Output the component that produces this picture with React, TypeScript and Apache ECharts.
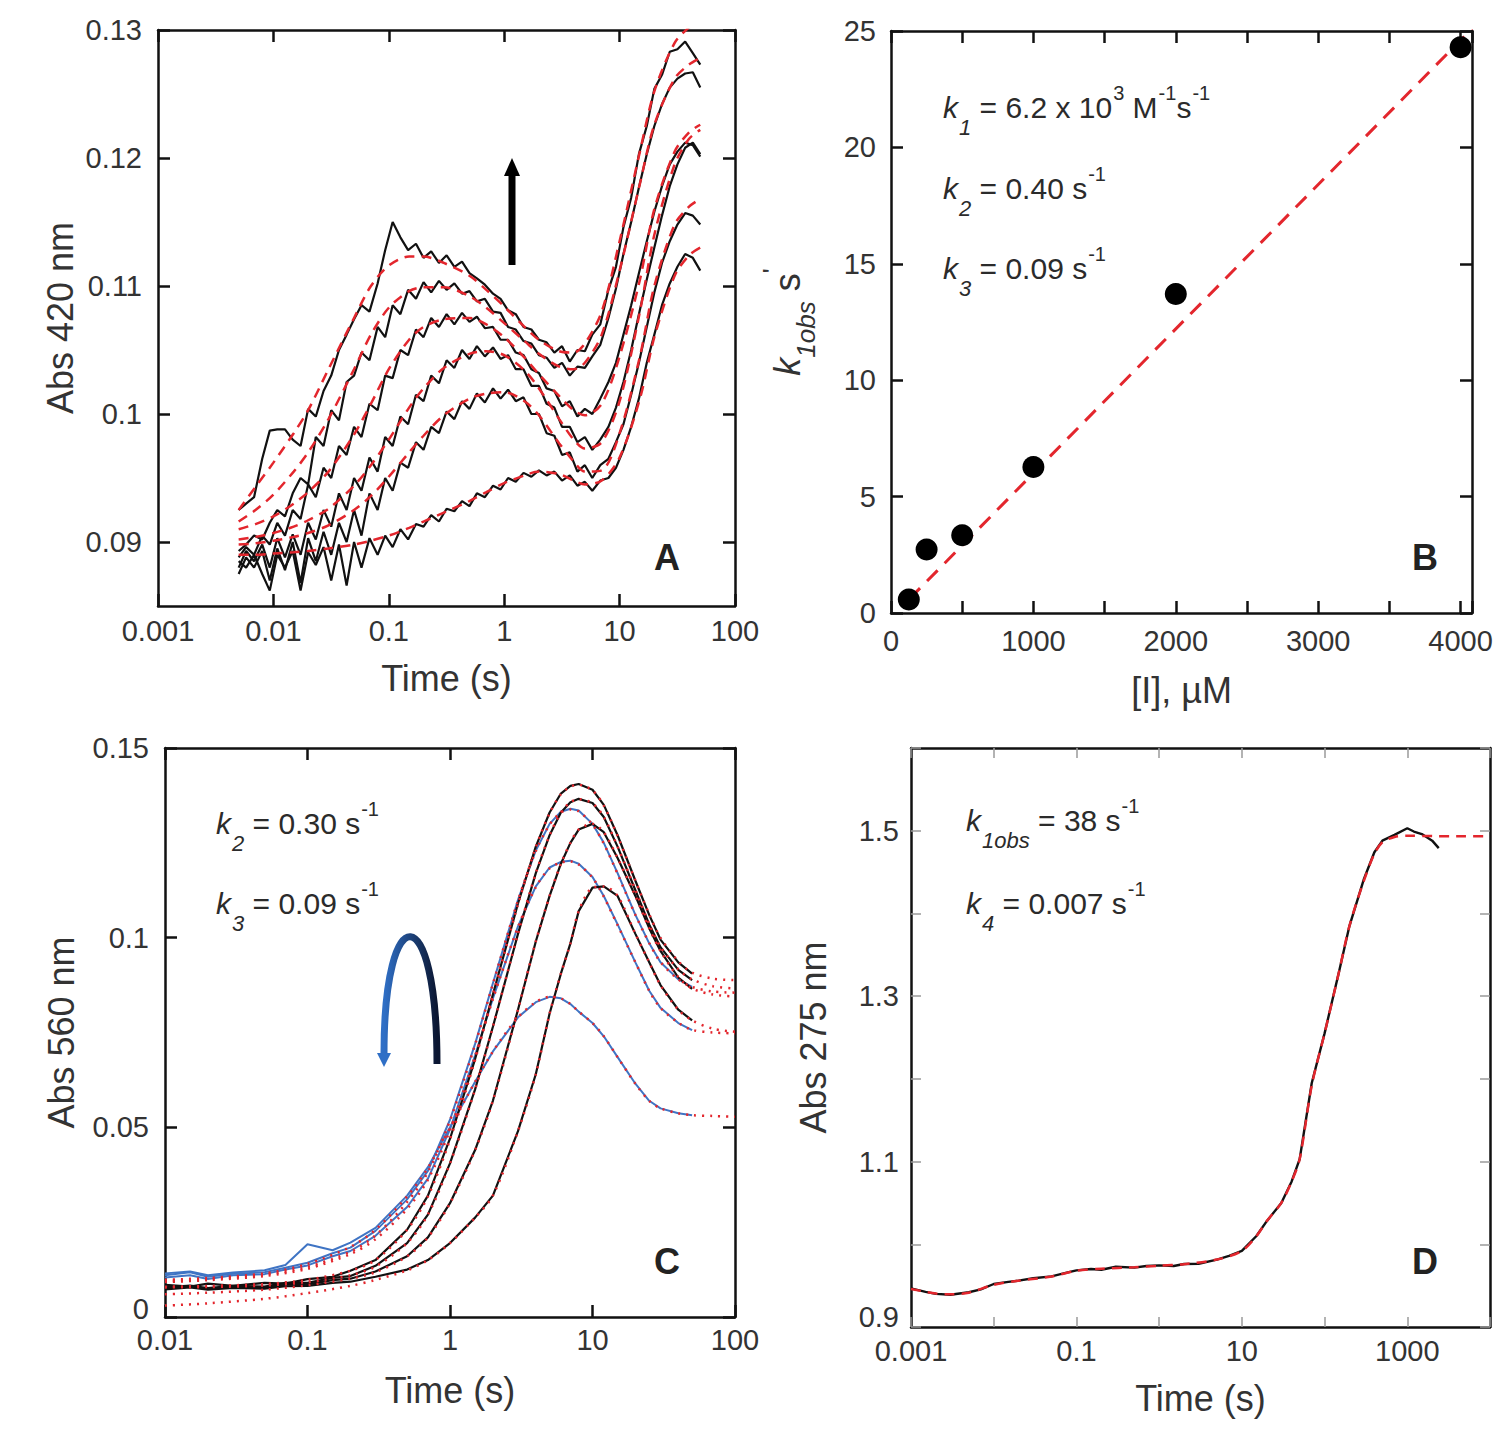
import React, { useEffect, useRef } from 'react';
import * as echarts from 'echarts';

// ---------------- Panel A : Abs 420 nm vs Time (s) ----------------
const A_TIME_FIT = [0.005, 0.007, 0.01, 0.015, 0.02, 0.03, 0.05, 0.07, 0.1, 0.15, 0.2, 0.3, 0.5, 0.7, 1, 1.5, 2, 3, 4, 5, 7, 10, 15, 20, 30, 40, 50];
const A_FIT_1 = [0.0925, 0.0943, 0.0962, 0.0985, 0.1003, 0.1035, 0.1075, 0.1100, 0.1116, 0.1123, 0.1123, 0.1118, 0.1108, 0.1097, 0.1084, 0.1068, 0.1058, 0.1049, 0.1048, 0.1055, 0.1080, 0.1135, 0.1205, 0.1252, 0.1290, 0.1302, 0.1308];
const A_FIT_2 = [0.0916, 0.0925, 0.0937, 0.0955, 0.0970, 0.0996, 0.1035, 0.1062, 0.1083, 0.1096, 0.1099, 0.1099, 0.1092, 0.1083, 0.1071, 0.1057, 0.1047, 0.1037, 0.1035, 0.1040, 0.1062, 0.1112, 0.1180, 0.1226, 0.1262, 0.1273, 0.1278];
const A_FIT_3 = [0.0910, 0.0914, 0.0920, 0.0930, 0.0939, 0.0955, 0.0984, 0.1008, 0.1035, 0.1058, 0.1068, 0.1074, 0.1075, 0.1070, 0.1060, 0.1044, 0.1031, 0.1014, 0.1003, 0.0999, 0.1008, 0.1045, 0.1105, 0.1160, 0.1205, 0.1220, 0.1226];
const A_FIT_4 = [0.0902, 0.0904, 0.0907, 0.0912, 0.0917, 0.0926, 0.0944, 0.0960, 0.0980, 0.1005, 0.1020, 0.1036, 0.1047, 0.1049, 0.1046, 0.1034, 0.1020, 0.0996, 0.0980, 0.0973, 0.0978, 0.1010, 0.1080, 0.1140, 0.1195, 0.1215, 0.1222];
const A_FIT_5 = [0.0898, 0.0899, 0.0901, 0.0904, 0.0907, 0.0913, 0.0925, 0.0936, 0.0951, 0.0970, 0.0983, 0.0999, 0.1012, 0.1016, 0.1017, 0.1010, 0.0999, 0.0977, 0.0963, 0.0955, 0.0956, 0.0985, 0.1045, 0.1100, 0.1148, 0.1162, 0.1168];
const A_FIT_6 = [0.0890, 0.0890, 0.0891, 0.0892, 0.0893, 0.0895, 0.0898, 0.0901, 0.0905, 0.0911, 0.0916, 0.0923, 0.0932, 0.0939, 0.0946, 0.0952, 0.0955, 0.0953, 0.0948, 0.0945, 0.0948, 0.0966, 0.1012, 0.1060, 0.1108, 0.1124, 0.1130];

const A_TIME_DATA = [
  0.005, 0.0058, 0.0068, 0.008, 0.0093, 0.0108, 0.0126, 0.0147, 0.0172, 0.02,
  0.0233, 0.0272, 0.0317, 0.037, 0.0431, 0.05, 0.058, 0.068, 0.08, 0.093,
  0.108, 0.126, 0.147, 0.172, 0.2, 0.233, 0.272, 0.317, 0.37, 0.431,
  0.5, 0.58, 0.68, 0.8, 0.93, 1.08, 1.26, 1.47, 1.72, 2,
  2.33, 2.72, 3.17, 3.7, 4.31, 5, 5.8, 6.8, 8, 9.3,
  10.8, 12.6, 14.7, 17.2, 20, 23.3, 27.2, 31.7, 37, 43.1,
  50,
];
const A_DATA_1 = [
  0.0925, 0.0930, 0.0935, 0.0965, 0.0987, 0.0988, 0.0988, 0.0980, 0.0975, 0.1004,
  0.0998, 0.1018, 0.1030, 0.1050, 0.1062, 0.1074, 0.1085, 0.1080, 0.1102, 0.1128,
  0.1150, 0.1138, 0.1128, 0.1133, 0.1122, 0.1127, 0.1118, 0.1124, 0.1115, 0.1119,
  0.1110, 0.1106, 0.1101, 0.1094, 0.1090, 0.1081, 0.1078, 0.1068, 0.1066, 0.1058,
  0.1056, 0.1048, 0.1053, 0.1041, 0.1050, 0.1049, 0.1062, 0.1070, 0.1097, 0.1115,
  0.1146, 0.1169, 0.1203, 0.1225, 0.1254, 0.1265, 0.1283, 0.1285, 0.1291, 0.1282,
  0.1273,
];
const A_DATA_2 = [
  0.0893, 0.0898, 0.0905, 0.0902, 0.0915, 0.0925, 0.0920, 0.0938, 0.0950, 0.0945,
  0.0982, 0.0975, 0.1003, 0.0995, 0.1025, 0.1030, 0.1048, 0.1042, 0.1068, 0.1060,
  0.1085, 0.1078, 0.1097, 0.1090, 0.1103, 0.1095, 0.1104, 0.1097, 0.1102, 0.1094,
  0.1096, 0.1088, 0.1090, 0.1080, 0.1079, 0.1068, 0.1066, 0.1057, 0.1055, 0.1046,
  0.1044, 0.1036, 0.1040, 0.1030, 0.1037, 0.1036, 0.1045, 0.1054, 0.1075, 0.1098,
  0.1125, 0.1150, 0.1177, 0.1203, 0.1225, 0.1242, 0.1255, 0.1262, 0.1266, 0.1267,
  0.1255,
];
const A_DATA_3 = [
  0.0888, 0.0896, 0.0890, 0.0905, 0.0898, 0.0915, 0.0905, 0.0925, 0.0918, 0.0945,
  0.0935, 0.0958, 0.0950, 0.0975, 0.0968, 0.0990, 0.0982, 0.1008, 0.1003, 0.1030,
  0.1028, 0.1050, 0.1046, 0.1066, 0.1060, 0.1075, 0.1068, 0.1078, 0.1070, 0.1079,
  0.1072, 0.1076, 0.1067, 0.1068, 0.1058, 0.1058, 0.1048, 0.1046, 0.1035, 0.1032,
  0.1020, 0.1018, 0.1006, 0.1010, 0.0998, 0.1004, 0.1000, 0.1012, 0.1025, 0.1040,
  0.1062, 0.1085, 0.1110, 0.1135, 0.1158, 0.1178, 0.1195, 0.1205, 0.1212, 0.1210,
  0.1201,
];
const A_DATA_4 = [
  0.0880, 0.0893, 0.0885, 0.0898, 0.0880, 0.0903, 0.0888, 0.0906, 0.0890, 0.0915,
  0.0902, 0.0925, 0.0912, 0.0938, 0.0925, 0.0950, 0.0940, 0.0966, 0.0955, 0.0982,
  0.0975, 0.0998, 0.0992, 0.1015, 0.1010, 0.1030, 0.1024, 0.1042, 0.1036, 0.1050,
  0.1043, 0.1053, 0.1045, 0.1052, 0.1043, 0.1046, 0.1035, 0.1035, 0.1022, 0.1022,
  0.1008, 0.1005, 0.0990, 0.0990, 0.0978, 0.0982, 0.0972, 0.0980, 0.0990, 0.1005,
  0.1025, 0.1050, 0.1078, 0.1105, 0.1130, 0.1155, 0.1178, 0.1195, 0.1208, 0.1212,
  0.1203,
];
const A_DATA_5 = [
  0.0875, 0.0888, 0.0880, 0.0893, 0.0870, 0.0895, 0.0878, 0.0900, 0.0868, 0.0903,
  0.0885, 0.0908, 0.0890, 0.0915, 0.0900, 0.0925, 0.0905, 0.0938, 0.0925, 0.0950,
  0.0940, 0.0962, 0.0958, 0.0978, 0.0972, 0.0990, 0.0985, 0.1002, 0.0996, 0.1010,
  0.1004, 0.1016, 0.1009, 0.1020, 0.1012, 0.1019, 0.1010, 0.1013, 0.1000, 0.1000,
  0.0985, 0.0983, 0.0968, 0.0970, 0.0955, 0.0960, 0.0950, 0.0960, 0.0965, 0.0978,
  0.0992, 0.1015, 0.1040, 0.1068, 0.1095, 0.1118, 0.1135, 0.1148, 0.1157, 0.1155,
  0.1148,
];
const A_DATA_6 = [
  0.0885, 0.0880, 0.0890, 0.0875, 0.0862, 0.0890, 0.0880, 0.0893, 0.0862, 0.0892,
  0.0882, 0.0896, 0.0870, 0.0898, 0.0866, 0.0900, 0.0880, 0.0903, 0.0890, 0.0905,
  0.0896, 0.0910, 0.0902, 0.0914, 0.0912, 0.0921, 0.0916, 0.0926, 0.0924, 0.0932,
  0.0928, 0.0938, 0.0935, 0.0944, 0.0941, 0.0950, 0.0947, 0.0954, 0.0951, 0.0956,
  0.0952, 0.0955, 0.0948, 0.0952, 0.0944, 0.0947, 0.0940, 0.0948, 0.0950, 0.0958,
  0.0972, 0.0990, 0.1012, 0.1040, 0.1062, 0.1085, 0.1102, 0.1115, 0.1125, 0.1122,
  0.1112,
];
const A_Y_TICKS = [0.09, 0.1, 0.11, 0.12, 0.13];

// ---------------- Panel B : k1obs vs [I] ----------------
const B_CONC = [125, 250, 500, 1000, 2000, 4000];
const B_KOBS = [0.58, 2.73, 3.34, 6.27, 13.7, 24.3];
const B_FIT_X = [130, 4080];
const B_FIT_Y = [0.61, 25.1];
const B_X_LABELS = [0, 1000, 2000, 3000, 4000];

// ---------------- Panel C : Abs 560 nm vs Time (s) ----------------
const C_TIME_DATA = [0.01, 0.015, 0.02, 0.03, 0.05, 0.07, 0.1, 0.15, 0.2, 0.3, 0.5, 0.7, 1, 1.5, 2, 3, 4, 5, 6, 7, 8, 10, 12, 15, 20, 25, 30, 40, 50];
const C_BLACK_1 = [0.0085, 0.0080, 0.0088, 0.0082, 0.0090, 0.0088, 0.0100, 0.0106, 0.0122, 0.0150, 0.0230, 0.0320, 0.0470, 0.0680, 0.0850, 0.1090, 0.1240, 0.1330, 0.1380, 0.1400, 0.1405, 0.1390, 0.1350, 0.1270, 0.1150, 0.1060, 0.0995, 0.0935, 0.0905];
const C_BLACK_2 = [0.0078, 0.0083, 0.0076, 0.0082, 0.0080, 0.0090, 0.0090, 0.0103, 0.0108, 0.0135, 0.0195, 0.0270, 0.0405, 0.0600, 0.0765, 0.1010, 0.1170, 0.1270, 0.1330, 0.1357, 0.1366, 0.1355, 0.1318, 0.1240, 0.1125, 0.1035, 0.0975, 0.0915, 0.0888];
const C_BLACK_3 = [0.0076, 0.0080, 0.0074, 0.0080, 0.0078, 0.0085, 0.0086, 0.0097, 0.0101, 0.0120, 0.0160, 0.0210, 0.0300, 0.0440, 0.0570, 0.0810, 0.0990, 0.1110, 0.1195, 0.1250, 0.1285, 0.1300, 0.1278, 0.1210, 0.1110, 0.1025, 0.0965, 0.0895, 0.0865];
const C_BLACK_4 = [0.0073, 0.0078, 0.0072, 0.0077, 0.0075, 0.0081, 0.0082, 0.0090, 0.0093, 0.0106, 0.0125, 0.0150, 0.0195, 0.0262, 0.0320, 0.0490, 0.0640, 0.0800, 0.0905, 0.0985, 0.1070, 0.1132, 0.1135, 0.1110, 0.1010, 0.0935, 0.0875, 0.0810, 0.0782];
const C_BLUE_1 = [0.0110, 0.0118, 0.0106, 0.0114, 0.0118, 0.0130, 0.0143, 0.0168, 0.0183, 0.0227, 0.0310, 0.0385, 0.0520, 0.0720, 0.0880, 0.1100, 0.1230, 0.1300, 0.1332, 0.1340, 0.1335, 0.1300, 0.1250, 0.1170, 0.1060, 0.0985, 0.0935, 0.0890, 0.0870];
const C_BLUE_2 = [0.0104, 0.0110, 0.0100, 0.0110, 0.0113, 0.0125, 0.0136, 0.0160, 0.0174, 0.0214, 0.0290, 0.0365, 0.0495, 0.0690, 0.0840, 0.1030, 0.1135, 0.1185, 0.1200, 0.1203, 0.1195, 0.1160, 0.1110, 0.1035, 0.0935, 0.0860, 0.0815, 0.0775, 0.0756];
const C_BLUE_3 = [0.0115, 0.0120, 0.0110, 0.0117, 0.0123, 0.0137, 0.0192, 0.0176, 0.0196, 0.0235, 0.0320, 0.0395, 0.0500, 0.0620, 0.0700, 0.0790, 0.0830, 0.0844, 0.0840, 0.0825, 0.0805, 0.0775, 0.0740, 0.0685, 0.0615, 0.0570, 0.0550, 0.0537, 0.0532];

const C_TIME_FIT = [0.01, 0.02, 0.05, 0.1, 0.2, 0.3, 0.5, 0.7, 1, 1.5, 2, 3, 4, 5, 6, 7, 8, 10, 12, 15, 20, 25, 30, 40, 50, 70, 100];
const C_FIT_BLACK_1 = [0.0080, 0.0082, 0.0087, 0.0098, 0.0122, 0.0150, 0.0230, 0.0318, 0.0468, 0.0678, 0.0850, 0.1088, 0.1238, 0.1328, 0.1378, 0.1398, 0.1403, 0.1388, 0.1348, 0.1268, 0.1150, 0.1062, 0.1000, 0.0938, 0.0908, 0.0892, 0.0888];
const C_FIT_BLACK_2 = [0.0078, 0.0079, 0.0083, 0.0092, 0.0110, 0.0133, 0.0195, 0.0270, 0.0405, 0.0600, 0.0765, 0.1010, 0.1170, 0.1270, 0.1330, 0.1357, 0.1365, 0.1354, 0.1318, 0.1240, 0.1126, 0.1036, 0.0976, 0.0917, 0.0890, 0.0872, 0.0866];
const C_FIT_BLACK_3 = [0.0060, 0.0064, 0.0072, 0.0084, 0.0101, 0.0118, 0.0160, 0.0210, 0.0300, 0.0440, 0.0570, 0.0810, 0.0990, 0.1110, 0.1195, 0.1250, 0.1285, 0.1300, 0.1278, 0.1210, 0.1110, 0.1025, 0.0965, 0.0896, 0.0866, 0.0850, 0.0845];
const C_FIT_BLACK_4 = [0.0030, 0.0036, 0.0048, 0.0063, 0.0082, 0.0098, 0.0123, 0.0150, 0.0195, 0.0262, 0.0320, 0.0490, 0.0640, 0.0800, 0.0905, 0.0985, 0.1070, 0.1132, 0.1135, 0.1110, 0.1010, 0.0935, 0.0875, 0.0810, 0.0782, 0.0760, 0.0752];
const C_FIT_BLUE_1 = [0.0095, 0.0100, 0.0112, 0.0132, 0.0172, 0.0215, 0.0303, 0.0382, 0.0518, 0.0718, 0.0878, 0.1098, 0.1228, 0.1298, 0.1330, 0.1338, 0.1333, 0.1298, 0.1248, 0.1168, 0.1060, 0.0986, 0.0936, 0.0890, 0.0870, 0.0858, 0.0855];
const C_FIT_BLUE_2 = [0.0092, 0.0097, 0.0108, 0.0127, 0.0166, 0.0205, 0.0285, 0.0362, 0.0493, 0.0688, 0.0838, 0.1028, 0.1133, 0.1183, 0.1198, 0.1201, 0.1193, 0.1158, 0.1108, 0.1033, 0.0935, 0.0860, 0.0815, 0.0776, 0.0757, 0.0750, 0.0748];
const C_FIT_BLUE_3 = [0.0098, 0.0103, 0.0115, 0.0140, 0.0185, 0.0230, 0.0318, 0.0393, 0.0498, 0.0620, 0.0700, 0.0790, 0.0830, 0.0844, 0.0840, 0.0825, 0.0805, 0.0775, 0.0740, 0.0685, 0.0615, 0.0570, 0.0550, 0.0537, 0.0532, 0.0530, 0.0528];

// ---------------- Panel D : Abs 275 nm vs Time (s) ----------------
const D_TIME_DATA = [
  0.001, 0.0015, 0.002, 0.003, 0.005, 0.007,
  0.01, 0.015, 0.02, 0.03, 0.05, 0.07,
  0.1, 0.15, 0.2, 0.3, 0.5, 0.7,
  1, 1.5, 2, 3, 5, 7,
  10, 15, 20, 30, 40, 50, 70,
  100, 150, 200, 300, 400, 500, 700,
  1000, 1200, 1500, 2000, 2400,
];
const D_DATA = [
  0.9467, 0.9425, 0.9400, 0.9390, 0.9420, 0.9455,
  0.9520, 0.9545, 0.9560, 0.9590, 0.9612, 0.9648,
  0.9685, 0.9702, 0.9692, 0.9728, 0.9718, 0.9738,
  0.9745, 0.9738, 0.9762, 0.9765, 0.9815, 0.9860,
  0.9920, 1.0100, 1.0280, 1.0500, 1.0760, 1.1030, 1.1950,
  1.2550, 1.3300, 1.3850, 1.4420, 1.4740, 1.4880, 1.4950,
  1.5030, 1.4990, 1.4960, 1.4880, 1.4790,
];
const D_TIME_FIT = [0.001, 0.002, 0.003, 0.005, 0.01, 0.02, 0.05, 0.1, 0.2, 0.5, 1, 2, 5, 10, 15, 20, 30, 40, 50, 70, 100, 150, 200, 300, 400, 500, 700, 1000, 2000, 5000, 10000];
const D_FIT = [0.9460, 0.9405, 0.9395, 0.9415, 0.9510, 0.9560, 0.9610, 0.9680, 0.9705, 0.9722, 0.9740, 0.9760, 0.9815, 0.9920, 1.0100, 1.0280, 1.0500, 1.0760, 1.1030, 1.1920, 1.2550, 1.3300, 1.3850, 1.4400, 1.4720, 1.4860, 1.4925, 1.4940, 1.4935, 1.4932, 1.4932];
const D_Y_TICKS = [0.9, 1.0, 1.1, 1.2, 1.3, 1.4, 1.5, 1.6];
const D_Y_LABELS = [0.9, 1.1, 1.3, 1.5];

// ---------------- styling ----------------
const FONT = '"Liberation Sans", Arial, Helvetica, sans-serif';
const INK = '#111111';
const TXT = '#333333';
const RED = '#e3262d';
const BLUE = '#3f74c4';

const pts = (xs: number[], ys: number[]) => xs.map((x, i) => [x, ys[i]]);
const logLabel = (v: number) => String(Number(Number(v).toPrecision(4)));
const logLabelOdd = (v: number) => {
  const e = Math.round(Math.log10(v));
  return Math.abs(e) % 2 === 1 ? logLabel(v) : '';
};
const plainLabel = (v: number) => String(Number(Number(v).toPrecision(6)));

const frame = () => ({ show: true, onZero: false, lineStyle: { color: INK, width: 2.5 } });
const tick = (color: string, width: number, length: number, customValues?: number[]) => {
  const t: any = { show: true, inside: true, length, lineStyle: { color, width } };
  if (customValues) t.customValues = customValues;
  return t;
};
const lbl = (margin: number, extra: any = {}) => ({ show: true, fontSize: 29, color: TXT, fontFamily: FONT, margin, ...extra });
const nameStyle = { fontSize: 36, color: TXT, fontFamily: FONT };

function buildOption(): any {
  const grids = [
    { left: 158, top: 30, width: 577, height: 576 },
    { left: 891, top: 31, width: 581, height: 582 },
    { left: 165, top: 748, width: 570, height: 569 },
    { left: 911, top: 748, width: 579, height: 579 },
  ].map((g) => ({ ...g, containLabel: false, outerBoundsMode: 'none', show: false }));

  const xAxis: any[] = [
    { gridIndex: 0, type: 'log', logBase: 10, min: 0.001, max: 100, position: 'bottom', axisLine: frame(), axisTick: tick(INK, 2.5, 12), axisLabel: lbl(10, { formatter: logLabel }), splitLine: { show: false }, name: 'Time (s)', nameLocation: 'middle', nameGap: 54, nameTextStyle: nameStyle },
    { gridIndex: 1, type: 'value', min: 0, max: 4080, interval: 500, position: 'bottom', axisLine: frame(), axisTick: tick(INK, 2.5, 12), axisLabel: lbl(13, { customValues: B_X_LABELS, formatter: plainLabel }), splitLine: { show: false }, name: '[I], µM', nameLocation: 'middle', nameGap: 59, nameTextStyle: nameStyle },
    { gridIndex: 2, type: 'log', logBase: 10, min: 0.01, max: 100, position: 'bottom', axisLine: frame(), axisTick: tick(INK, 2.5, 12), axisLabel: lbl(8, { formatter: logLabel }), splitLine: { show: false }, name: 'Time (s)', nameLocation: 'middle', nameGap: 55, nameTextStyle: nameStyle },
    { gridIndex: 3, type: 'log', logBase: 10, min: 0.001, max: 10000, position: 'bottom', axisLine: frame(), axisTick: tick('#9a9a9a', 1.5, 10), axisLabel: lbl(9, { formatter: logLabelOdd }), splitLine: { show: false }, name: 'Time (s)', nameLocation: 'middle', nameGap: 53, nameTextStyle: nameStyle },
    { gridIndex: 0, type: 'log', logBase: 10, min: 0.001, max: 100, position: 'top', axisLine: frame(), axisTick: tick(INK, 2.5, 12), axisLabel: { show: false }, splitLine: { show: false } },
    { gridIndex: 1, type: 'value', min: 0, max: 4080, interval: 500, position: 'top', axisLine: frame(), axisTick: tick(INK, 2.5, 12), axisLabel: { show: false }, splitLine: { show: false } },
    { gridIndex: 2, type: 'log', logBase: 10, min: 0.01, max: 100, position: 'top', axisLine: frame(), axisTick: tick(INK, 2.5, 12), axisLabel: { show: false }, splitLine: { show: false } },
    { gridIndex: 3, type: 'log', logBase: 10, min: 0.001, max: 10000, position: 'top', axisLine: frame(), axisTick: tick('#9a9a9a', 1.5, 10), axisLabel: { show: false }, splitLine: { show: false } },
  ];

  const bName = '{k|k}{sub|1obs}{n| s}{sup|\'}';
  const bNameRich = {
    k: { fontSize: 36, fontStyle: 'italic', color: TXT, fontFamily: FONT, verticalAlign: 'middle' },
    sub: { fontSize: 26, fontStyle: 'italic', color: TXT, fontFamily: FONT, padding: [38, 0, 0, 0], verticalAlign: 'middle' },
    n: { fontSize: 36, color: TXT, fontFamily: FONT, verticalAlign: 'middle' },
    sup: { fontSize: 26, color: TXT, fontFamily: FONT, padding: [0, 0, 30, 0], verticalAlign: 'middle' },
  };

  // lift the lowest y label of panels C and D a little so it clears the x labels
  const liftRich = (pad: number) => ({ lo: { fontSize: 29, color: TXT, fontFamily: FONT, padding: [0, 0, pad, 0] } });
  const cYLabel = (v: number) => (Math.abs(v) < 1e-9 ? '{lo|0}' : plainLabel(v));
  const dYLabel = (v: number) => (Math.abs(v - 0.9) < 1e-9 ? '{lo|0.9}' : plainLabel(v));

  const yAxis: any[] = [
    { gridIndex: 0, type: 'value', min: 0.085, max: 0.13, position: 'left', axisLine: frame(), axisTick: tick(INK, 2.5, 12, A_Y_TICKS), axisLabel: lbl(16, { customValues: A_Y_TICKS, formatter: plainLabel }), splitLine: { show: false }, name: 'Abs 420 nm', nameLocation: 'middle', nameRotate: 90, nameGap: 80, nameTextStyle: nameStyle },
    { gridIndex: 1, type: 'value', min: 0, max: 25, interval: 5, position: 'left', axisLine: frame(), axisTick: tick(INK, 2.5, 12), axisLabel: lbl(15, { formatter: plainLabel }), splitLine: { show: false }, name: bName, nameLocation: 'middle', nameRotate: 90, nameGap: 72, nameTextStyle: { ...nameStyle, rich: bNameRich } },
    { gridIndex: 2, type: 'value', min: 0, max: 0.15, interval: 0.05, position: 'left', axisLine: frame(), axisTick: tick(INK, 2.5, 12), axisLabel: lbl(16, { formatter: cYLabel, rich: liftRich(16) }), splitLine: { show: false }, name: 'Abs 560 nm', nameLocation: 'middle', nameRotate: 90, nameGap: 86, nameTextStyle: nameStyle },
    { gridIndex: 3, type: 'value', min: 0.9, max: 1.6, position: 'left', axisLine: frame(), axisTick: tick('#9a9a9a', 1.5, 10, D_Y_TICKS), axisLabel: lbl(12, { customValues: D_Y_LABELS, formatter: dYLabel, rich: liftRich(20) }), splitLine: { show: false }, name: 'Abs 275 nm', nameLocation: 'middle', nameRotate: 90, nameGap: 80, nameTextStyle: nameStyle },
    { gridIndex: 0, type: 'value', min: 0.085, max: 0.13, position: 'right', axisLine: frame(), axisTick: tick(INK, 2.5, 12, A_Y_TICKS), axisLabel: { show: false }, splitLine: { show: false } },
    { gridIndex: 1, type: 'value', min: 0, max: 25, interval: 5, position: 'right', axisLine: frame(), axisTick: tick(INK, 2.5, 12), axisLabel: { show: false }, splitLine: { show: false } },
    { gridIndex: 2, type: 'value', min: 0, max: 0.15, interval: 0.05, position: 'right', axisLine: frame(), axisTick: tick(INK, 2.5, 12), axisLabel: { show: false }, splitLine: { show: false } },
    { gridIndex: 3, type: 'value', min: 0.9, max: 1.6, position: 'right', axisLine: frame(), axisTick: tick('#9a9a9a', 1.5, 10, D_Y_TICKS), axisLabel: { show: false }, splitLine: { show: false } },
  ];

  const dataLine = (idx: number, xs: number[], ys: number[], color: string, width = 2.2) => ({
    type: 'line', xAxisIndex: idx, yAxisIndex: idx, data: pts(xs, ys), symbol: 'none', showSymbol: false,
    lineStyle: { color, width }, z: 2, silent: true, clip: true,
  });
  const fitLine = (idx: number, xs: number[], ys: number[], dash: number[], width = 2.5, smooth: any = 0.3) => ({
    type: 'line', xAxisIndex: idx, yAxisIndex: idx, data: pts(xs, ys), symbol: 'none', showSymbol: false, smooth,
    lineStyle: { color: RED, width, type: dash }, z: 3, silent: true, clip: true,
  });

  const aDash = [10, 7];
  const cDot = [2, 6];
  const series: any[] = [
    // Panel A
    dataLine(0, A_TIME_DATA, A_DATA_6, INK),
    dataLine(0, A_TIME_DATA, A_DATA_5, INK),
    dataLine(0, A_TIME_DATA, A_DATA_4, INK),
    dataLine(0, A_TIME_DATA, A_DATA_3, INK),
    dataLine(0, A_TIME_DATA, A_DATA_2, INK),
    dataLine(0, A_TIME_DATA, A_DATA_1, INK),
    fitLine(0, A_TIME_FIT, A_FIT_1, aDash),
    fitLine(0, A_TIME_FIT, A_FIT_2, aDash),
    fitLine(0, A_TIME_FIT, A_FIT_3, aDash),
    fitLine(0, A_TIME_FIT, A_FIT_4, aDash),
    fitLine(0, A_TIME_FIT, A_FIT_5, aDash),
    fitLine(0, A_TIME_FIT, A_FIT_6, aDash),
    // Panel B
    fitLine(1, B_FIT_X, B_FIT_Y, [15, 10], 3, false),
    { type: 'scatter', xAxisIndex: 1, yAxisIndex: 1, data: pts(B_CONC, B_KOBS), symbol: 'circle', symbolSize: 22, itemStyle: { color: '#000', opacity: 1 }, z: 4, silent: true },
    // Panel C
    dataLine(2, C_TIME_DATA, C_BLUE_3, BLUE, 2),
    dataLine(2, C_TIME_DATA, C_BLUE_2, BLUE, 2),
    dataLine(2, C_TIME_DATA, C_BLUE_1, BLUE, 2),
    dataLine(2, C_TIME_DATA, C_BLACK_4, INK),
    dataLine(2, C_TIME_DATA, C_BLACK_3, INK),
    dataLine(2, C_TIME_DATA, C_BLACK_2, INK),
    dataLine(2, C_TIME_DATA, C_BLACK_1, INK),
    fitLine(2, C_TIME_FIT, C_FIT_BLACK_1, cDot, 2.5),
    fitLine(2, C_TIME_FIT, C_FIT_BLACK_2, cDot, 2.5),
    fitLine(2, C_TIME_FIT, C_FIT_BLACK_3, cDot, 2.5),
    fitLine(2, C_TIME_FIT, C_FIT_BLACK_4, cDot, 2.5),
    fitLine(2, C_TIME_FIT, C_FIT_BLUE_1, cDot, 2.5),
    fitLine(2, C_TIME_FIT, C_FIT_BLUE_2, cDot, 2.5),
    fitLine(2, C_TIME_FIT, C_FIT_BLUE_3, cDot, 2.5),
    // Panel D
    dataLine(3, D_TIME_DATA, D_DATA, INK, 2.4),
    fitLine(3, D_TIME_FIT, D_FIT, [10, 7], 2.5),
  ];

  const annFill = '#2b2b2b';
  const annRich = {
    k: { fontSize: 30, fontStyle: 'italic', fontFamily: FONT, fill: annFill, verticalAlign: 'middle' },
    sub: { fontSize: 22, fontStyle: 'italic', fontFamily: FONT, fill: annFill, padding: [40, 0, 0, 1], verticalAlign: 'middle' },
    m: { fontSize: 30, fontFamily: FONT, fill: annFill, verticalAlign: 'middle' },
    sup: { fontSize: 20, fontFamily: FONT, fill: annFill, padding: [0, 0, 28, 1], verticalAlign: 'middle' },
  };
  const ann = (x: number, y: number, text: string) => ({
    type: 'text', x, y, silent: true, z: 10,
    style: { text, rich: annRich, fill: annFill, fontSize: 30, fontFamily: FONT, align: 'left', verticalAlign: 'middle', textAlign: 'left', textVerticalAlign: 'middle' },
  });
  const letter = (x: number, y: number, t: string) => ({
    type: 'text', x, y, silent: true, z: 10,
    style: { text: t, fill: '#222', fontSize: 36, fontWeight: 'bold', fontFamily: FONT, align: 'center', verticalAlign: 'middle', textAlign: 'center', textVerticalAlign: 'middle' },
  });

  const arcGradient = new echarts.graphic.LinearGradient(0, 0, 1, 0, [
    { offset: 0, color: '#2f6fc6' },
    { offset: 1, color: '#0b1631' },
  ]);

  const graphic = {
    elements: [
      // Panel A arrow
      { type: 'line', silent: true, z: 10, shape: { x1: 512, y1: 265, x2: 512, y2: 172 }, style: { stroke: '#000', lineWidth: 7 } },
      { type: 'polygon', silent: true, z: 10, shape: { points: [[504, 176], [520, 176], [512, 158]] }, style: { fill: '#000' } },
      // Panel C curved arrow
      { type: 'bezierCurve', silent: true, z: 10, shape: { x1: 437, y1: 1064, cpx1: 437, cpy1: 896, cpx2: 384, cpy2: 896, x2: 384, y2: 1054 }, style: { stroke: arcGradient, lineWidth: 7, fill: null } },
      { type: 'polygon', silent: true, z: 10, shape: { points: [[377, 1053], [391, 1053], [384, 1067]] }, style: { fill: '#2f6fc6' } },
      // Panel letters
      letter(667, 557, 'A'),
      letter(1425, 557, 'B'),
      letter(667, 1261, 'C'),
      letter(1425, 1261, 'D'),
      // Annotations
      ann(943, 107, '{k|k}{sub|1}{m| = 6.2 x 10}{sup|3}{m| M}{sup|-1}{m|s}{sup|-1}'),
      ann(943, 188, '{k|k}{sub|2}{m| = 0.40 s}{sup|-1}'),
      ann(943, 268, '{k|k}{sub|3}{m| = 0.09 s}{sup|-1}'),
      ann(216, 823, '{k|k}{sub|2}{m| = 0.30 s}{sup|-1}'),
      ann(216, 903, '{k|k}{sub|3}{m| = 0.09 s}{sup|-1}'),
      ann(966, 820, '{k|k}{sub|1obs}{m| = 38 s}{sup|-1}'),
      ann(966, 903, '{k|k}{sub|4}{m| = 0.007 s}{sup|-1}'),
    ],
  };

  return {
    animation: false,
    backgroundColor: '#ffffff',
    textStyle: { fontFamily: FONT },
    grid: grids,
    xAxis,
    yAxis,
    series,
    graphic,
  };
}

export default function App() {
  const ref = useRef<HTMLDivElement>(null);
  useEffect(() => {
    if (!ref.current) return;
    const chart = echarts.init(ref.current, null, { renderer: 'svg' });
    chart.setOption(buildOption());
    return () => {
      chart.dispose();
    };
  }, []);
  return (
    <div
      ref={ref}
      style={{ position: 'absolute', left: 0, top: 0, width: 1500, height: 1429, background: '#fff' }}
    />
  );
}
